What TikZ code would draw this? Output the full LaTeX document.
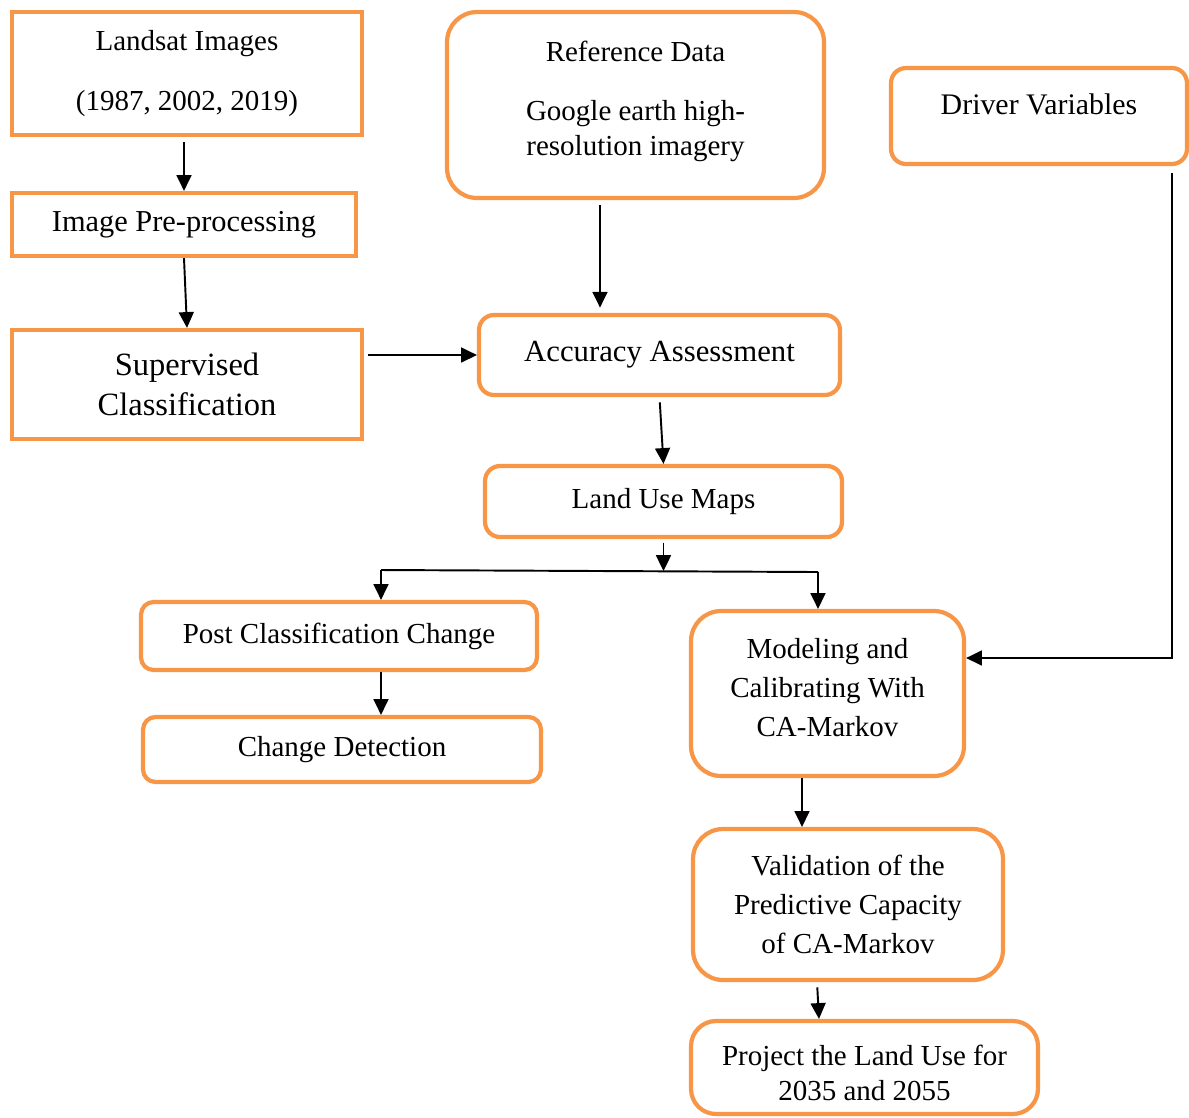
\documentclass[tikz,border=0pt]{standalone}
\usepackage{fontspec}
\setmainfont{Liberation Serif}
\usetikzlibrary{arrows.meta,positioning,calc}
\definecolor{peach}{RGB}{247,150,70}
\definecolor{ink}{RGB}{0,0,0}
\tikzset{
  >={Triangle[length=9pt,width=8.5pt]},
  sqbox/.style={draw=peach,line width=2.4pt,align=center,inner sep=0pt,
    font=\fontsize{16.5}{19.5}\selectfont},
  rbox/.style={sqbox,rounded corners=#1},
  rbox/.default=0.3cm,
  flow/.style={->,line width=1.1pt,draw=ink},
}

\begin{document}
\begin{tikzpicture}[x=0.02cm,y=-0.02cm]
  \useasboundingbox (0,0) rectangle (1189,1117);
  % left column
  \node[sqbox,minimum width=7cm,minimum height=2.46cm] (landsat) at (187,73.5) {Landsat Images\\[14.5pt](1987, 2002, 2019)};
  \node[sqbox,minimum width=6.88cm,minimum height=1.26cm,font=\fontsize{17.3}{20}\selectfont] (preproc) at (184,224.5) {Image Pre-processing};
  \node[sqbox,minimum width=7cm,minimum height=2.18cm,font=\fontsize{18.5}{23}\selectfont] (superv) at (187,384.5) {Supervised\\Classification};
  % middle column
  \node[rbox=0.6cm,minimum width=7.54cm,minimum height=3.72cm] (refdata) at (635.5,105) {Reference Data\\[14.5pt]Google earth high-\\resolution imagery\\[-11.5pt]\mbox{}};
  \node[rbox,minimum width=5.92cm,minimum height=1.92cm,font=\fontsize{17}{19.5}\selectfont] (driver) at (1039,116) {Driver Variables\\[-6pt]\mbox{}};
  \node[rbox,minimum width=7.22cm,minimum height=1.6cm,font=\fontsize{17.5}{20}\selectfont] (acc) at (659.5,355) {Accuracy Assessment};
  \node[rbox,minimum width=7.14cm,minimum height=1.42cm] (lum) at (663.5,501.5) {Land Use Maps};
  % change branch
  \node[rbox=0.25cm,minimum width=7.92cm,minimum height=1.36cm] (post) at (339,636) {Post Classification Change};
  \node[rbox=0.25cm,minimum width=7.96cm,minimum height=1.3cm] (chg) at (342,749.5) {Change Detection};
  % modelling branch
  \node[rbox=0.6cm,minimum width=5.46cm,minimum height=3.3cm,font=\fontsize{16.5}{22}\selectfont] (model) at (827.5,693.5) {Modeling and\\Calibrating With\\CA-Markov\\[-15pt]\mbox{}};
  \node[rbox=0.6cm,minimum width=6.2cm,minimum height=3.02cm,font=\fontsize{16.5}{22}\selectfont] (val) at (848,904.5) {Validation of the\\Predictive Capacity\\of CA-Markov};
  \node[rbox=0.5cm,minimum width=6.94cm,minimum height=1.86cm] (proj) at (864.5,1067.5) {\mbox{}\\[-1.6pt]Project the Land Use for\\2035 and 2055};

  \coordinate (split) at (663.5,571);
  \coordinate (jl) at (381,570);
  \coordinate (jr) at (818,572);

  \draw[flow,shorten <=3pt] (landsat.south -| preproc) -- (preproc.north);
  \draw[flow] (preproc.south) -- (superv.north);
  \draw[flow,shorten <=2pt] (acc.west -| superv.east) -- (acc.west);
  \draw[flow,shorten <=3pt,shorten >=3pt] ($(refdata.south)+(-35.5,0)$) -- ($(acc.north)+(-59.5,0)$);
  \draw[flow,shorten <=3pt] (acc.south) -- (lum.north);
  \draw[flow,shorten <=2pt] (lum.south) -- (split);
  \draw[line width=1.1pt] (jl) -- (jr);
  \draw[flow] (jl) -- (jl |- post.north);
  \draw[flow] (jr) -- (jr |- model.north);
  \draw[flow] (post.south -| jl) -- (chg.north -| jl);
  \draw[flow,shorten <=4pt] ($(driver.south)+(133,0)$) |- ($(model.east)+(0,-35.5)$);
  \draw[flow] ($(model.south)+(-25.5,0)$) -- ($(val.north)+(-46,0)$);
  \draw[flow,shorten <=3pt] ($(val.south)+(-31,0)$) -- ($(proj.north)+(-45.5,0)$);
\end{tikzpicture}
\end{document}
